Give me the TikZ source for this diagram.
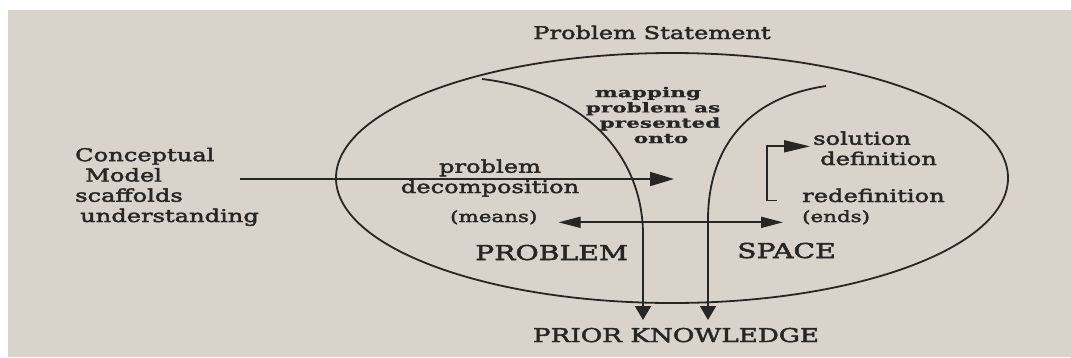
\documentclass[tikz,border=0pt]{standalone}
\usepackage{fontspec}
\usetikzlibrary{arrows.meta}
\newfontfamily\slab[FakeStretch=1.38,FakeBold=2.5]{DejaVu Serif}
\newfontfamily\slabwide[FakeStretch=1.6,FakeBold=1]{DejaVu Serif}
\definecolor{page}{HTML}{D9D3CB}
\definecolor{ink}{HTML}{262626}
\tikzset{
  txt/.style={text=ink, inner sep=0pt, font=\slab\fontsize{17.5}{20.3}\selectfont},
  small/.style={text=ink, inner sep=0pt, font=\slab\fontsize{15.5}{17}\selectfont},
  tiny/.style={text=ink, inner sep=0pt, font=\slabwide\bfseries\fontsize{13.5}{15.3}\selectfont},
  caps/.style={text=ink, inner sep=0pt, font=\slab\fontsize{20.5}{22}\selectfont},
  pkfont/.style={text=ink, inner sep=0pt, font=\slab\fontsize{19}{22}\selectfont},
  ln/.style={draw=ink, line width=1.8pt},
  arr/.style={ln, -{Triangle[length=24pt,width=14pt]}},
  darr/.style={ln, {Triangle[length=22pt,width=11pt]}-{Triangle[length=22pt,width=11pt]}},
  downarr/.style={ln, -{Triangle[length=14pt,width=16pt]}},
  brk/.style={ln, -{Triangle[length=26pt,width=12pt]}}
}
\begin{document}
\begin{tikzpicture}[x=1pt,y=-1pt]
\useasboundingbox (0,0) rectangle (1071,357);
\fill[white] (0,0) rectangle (1071,357);
\fill[page] (8,10) rectangle (1071,357);

% big oval
\draw[ln] (672,178) ellipse [x radius=336, y radius=125];

% texts (base anchor of a multi-line node = baseline of its last line)
\node[txt, anchor=base] (ps) at (652,39) {Problem Statement};
\node[txt, anchor=base west, align=left] (cm) at (75,222)
  {Conceptual\\\hspace{10pt}Model\\scaffolds\\\hspace{5pt}understanding};
\node[tiny, anchor=base, align=center] (map) at (653,143)
  {\hspace{-10pt}mapping\\problem as\\\hspace{14pt}presented\\\hspace{16pt}onto};
\node[txt, anchor=base, align=center] (pd) at (490,193)
  {problem\hspace{40pt}\\decomposition};
\node[small, anchor=base west] (means) at (450,222) {(means)};
\node[small, anchor=base west] (ends) at (802,222) {(ends)};
\node[txt, anchor=base west, align=left] (sol) at (813,165)
  {solution\\\hspace{7pt}definition};
\node[txt, anchor=base west] (redef) at (802,202) {redefinition};
\node[caps, anchor=base west] (prob) at (475,260) {PROBLEM};
\node[caps, anchor=base west] (space) at (737,258) {SPACE};
\node[pkfont, anchor=base] (pk) at (676,342) {PRIOR KNOWLEDGE};

% coordinates for the curves
\coordinate (L0) at (482,79);
\coordinate (L1) at (643,235);
\coordinate (R0) at (826,86);
\coordinate (R1) at (708,220);
\coordinate (Ltip) at (643,320);
\coordinate (Rtip) at (708,320);
\coordinate (cmA) at (240,179);
\coordinate (pdT) at (674,179);

% curves flowing down into prior knowledge
\draw[downarr] (L0) .. controls (590,92) and (643,160) .. (L1) -- (Ltip);
\draw[downarr] (R0) .. controls (745,98) and (708,150) .. (R1) -- (Rtip);

% conceptual model arrow
\draw[arr] (cmA) -- (pdT);

% means <-> ends
\draw[darr] ([xshift=21pt,yshift=-5pt]means.east) -- ([xshift=-19pt,yshift=-5pt]ends.west);

% redefinition -> solution definition bracket
\draw[brk] ([xshift=-25pt,yshift=-5pt]redef.west) -- ++(-10,0) |- ([xshift=-3pt,yshift=2pt]sol.west);
\end{tikzpicture}
\end{document}
